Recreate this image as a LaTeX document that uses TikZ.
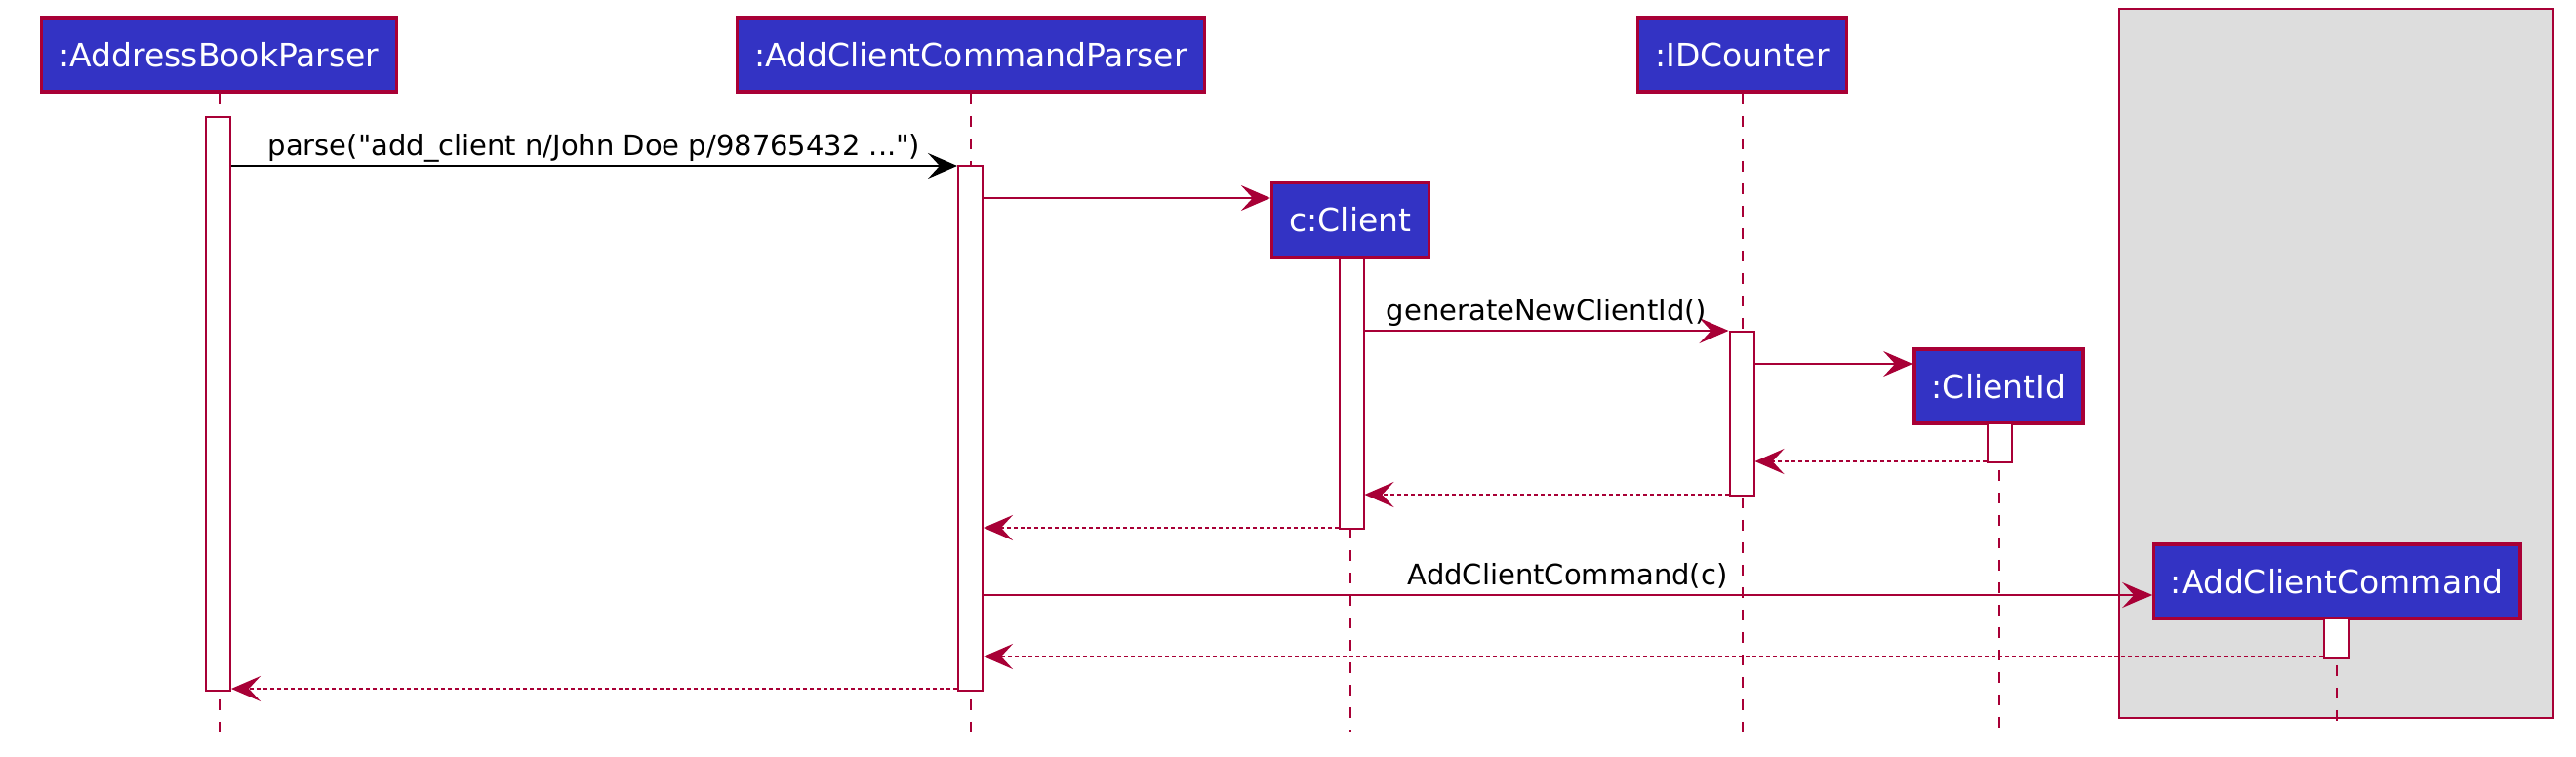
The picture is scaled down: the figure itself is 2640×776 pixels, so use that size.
\documentclass[tikz,border=0pt]{standalone}
\usepackage{fontspec}
\setmainfont{DejaVu Sans}
\usetikzlibrary{arrows.meta}

\definecolor{umlred}{HTML}{A80036}
\definecolor{umlblue}{HTML}{3333C4}
\definecolor{umlgrey}{HTML}{DDDDDD}

\begin{document}
\begin{tikzpicture}[
  x=1pt,
  y=-1pt,
  part/.style={fill=umlblue,draw=umlred,line width=3.5pt,text=white,font=\fontsize{33}{39}\selectfont,minimum height=76pt,inner xsep=18pt},
  act/.style={fill=white,draw=umlred,line width=2pt,minimum width=25pt,inner sep=0pt,anchor=north},
  life/.style={draw=umlred,line width=2pt,dash pattern=on 11pt off 12pt},
  grp/.style={fill=umlgrey,draw=umlred,line width=2pt},
  call/.style={draw=umlred,line width=2pt,-{Stealth[length=30pt,width=26pt,inset=12pt]}},
  ret/.style={call,dash pattern=on 4pt off 3pt},
  lab/.style={font=\fontsize{29}{35}\selectfont,anchor=base,yshift=11pt,inner sep=0pt}
]
\useasboundingbox (0,0) rectangle (2640,776);
\path[grp] (2172,9) rectangle (2616,736);

% participants
\node[part] (abp) at (224.5,56) {:AddressBookParser};
\node[part] (acp) at (995,56) {:AddClientCommandParser};
\node[part] (idc) at (1785.5,56) {:IDCounter};
\node[part] (client) at (1384,225.5) {c:Client};
\node[part] (cid) at (2048.5,396) {:ClientId};
\node[part] (acc) at (2395,596) {:AddClientCommand};

\coordinate (bottom) at (0,750);
\foreach \p in {abp,acp,idc,client,cid,acc}
  \draw[life] (\p.south) -- (\p.south |- bottom);

% activations
\node[act,minimum height=588pt] (abpAct) at (223.5,119) {};
\node[act,minimum height=538pt] (acpAct) at (994.5,169) {};
\node[act,minimum height=278pt] (clientAct) at (1385,263) {};
\node[act,minimum height=168pt] (idcAct) at (1785,339) {};
\node[act,minimum height=40pt] (cidAct) at (2049,433) {};
\node[act,minimum height=41pt] (accAct) at (2394.5,633) {};

% message rows
\coordinate (m1) at (0,170);
\coordinate (m2) at (0,203);
\coordinate (m3) at (0,339);
\coordinate (m4) at (0,373);
\coordinate (m5) at (0,473);
\coordinate (m6) at (0,507);
\coordinate (m7) at (0,541);
\coordinate (m8) at (0,610);
\coordinate (m9) at (0,673);
\coordinate (m10) at (0,706);

\draw[call,draw=black] (abpAct.east |- m1) -- (acpAct.west |- m1)
  node[lab,midway] {parse(\textquotedbl add\_client n/John Doe p/98765432 ...\textquotedbl)};
\draw[call] (acpAct.east |- m2) -- (client.west |- m2);
\draw[call] (clientAct.east |- m3) -- (idcAct.west |- m3)
  node[lab,midway] {generateNewClientId()};
\draw[call] (idcAct.east |- m4) -- (cid.west |- m4);
\draw[ret] (cidAct.west |- m5) -- (idcAct.east |- m5);
\draw[ret] (idcAct.west |- m6) -- (clientAct.east |- m6);
\draw[ret] (clientAct.west |- m7) -- (acpAct.east |- m7);
\draw[call] (acpAct.east |- m8) -- (acc.west |- m8)
  node[lab,midway] {AddClientCommand(c)};
\draw[ret] (accAct.west |- m9) -- (acpAct.east |- m9);
\draw[ret] (acpAct.west |- m10) -- (abpAct.east |- m10);
\end{tikzpicture}
\end{document}
